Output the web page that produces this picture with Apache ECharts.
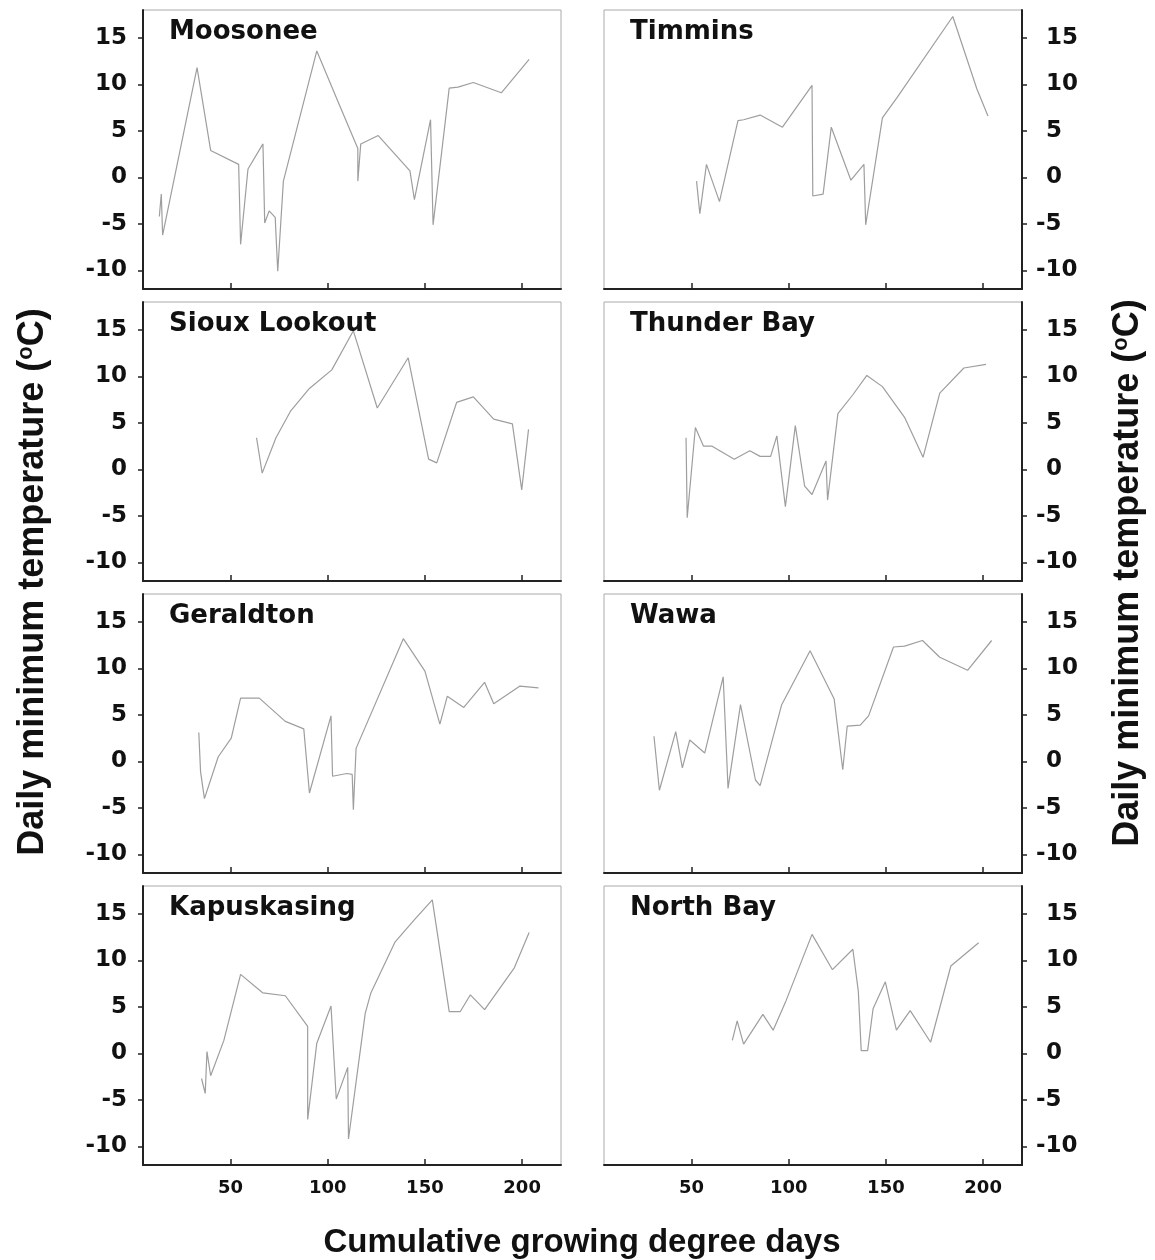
<!DOCTYPE html>
<html>
<head>
<meta charset="utf-8">
<script src="https://cdn.jsdelivr.net/npm/echarts@6/dist/echarts.min.js"></script>
<style>
    html, body { margin: 0; padding: 0; background: #fff; }
    #chart { width: 1155px; height: 1260px; }
</style>
</head>
<body>
<div id="chart"></div>
<script>
    // panel order: left column then right column, row by row
    const stations = ['Moosonee', 'Timmins', 'Sioux Lookout', 'Thunder Bay',
                      'Geraldton', 'Wawa', 'Kapuskasing', 'North Bay'];

    const xTicks = [50, 100, 150, 200];
    const yTicks = [-10, -5, 0, 5, 10, 15];

    // cumulative growing degree days / daily minimum temperature (°C)
    const moosoneeGdd  = [13.4, 14.4, 15.1, 32.8, 39.8, 54.2, 55.2, 59, 66.7, 67.6, 69.9, 73, 74.3, 77.2, 94.4, 105, 115.5, 115.5, 117, 126, 142.3, 144.6, 152.9, 154.2, 162.5, 167, 174.9, 189.3, 203.6];
    const moosoneeTmin = [-4.2, -1.8, -6.2, 11.8, 2.9, 1.4, -7.2, 0.9, 3.6, -4.9, -3.6, -4.3, -10.1, -0.4, 13.6, 8.3, 3.1, -0.4, 3.6, 4.5, 0.7, -2.4, 6.2, -5.1, 9.6, 9.7, 10.2, 9.1, 12.7];

    const timminsGdd  = [52.6, 54.3, 57.7, 64.4, 73.9, 76.8, 85.3, 96.8, 112, 112.4, 117.7, 121.9, 132, 138.7, 139.6, 148.2, 155.8, 184.4, 196.8, 202.5];
    const timminsTmin = [-0.4, -3.9, 1.4, -2.6, 6.1, 6.2, 6.7, 5.4, 9.9, -2.0, -1.8, 5.4, -0.3, 1.4, -5.1, 6.4, 8.6, 17.3, 9.5, 6.6];

    const siouxGdd  = [63.4, 66.3, 73.4, 81, 90.6, 102.1, 113.2, 125.5, 141.4, 151.9, 156.1, 166.3, 174.9, 185.4, 195, 199.8, 203.3];
    const siouxTmin = [3.4, -0.4, 3.4, 6.3, 8.7, 10.7, 14.9, 6.6, 12.0, 1.1, 0.7, 7.2, 7.8, 5.4, 4.9, -2.2, 4.3];

    const thunderGdd  = [47.2, 47.8, 52, 56.2, 60.6, 72, 80, 85.3, 90.7, 93.9, 98.3, 103.4, 108.2, 112, 119.2, 120, 125.3, 132.9, 140.2, 148.2, 159.6, 169.1, 177.7, 190.1, 201.5];
    const thunderTmin = [3.4, -5.2, 4.5, 2.5, 2.5, 1.1, 2.0, 1.4, 1.4, 3.6, -4.0, 4.7, -1.8, -2.7, 0.9, -3.3, 6.0, 8.0, 10.1, 8.9, 5.6, 1.3, 8.2, 10.9, 11.3];

    const geraldtonGdd  = [33.7, 34.6, 36.6, 43.7, 50.4, 55.2, 64.8, 78.2, 87.7, 90.6, 101.7, 102.5, 109.8, 112.6, 113.2, 114.6, 138.9, 150, 157.7, 161.5, 170, 180.7, 185.4, 198.9, 208.4];
    const geraldtonTmin = [3.1, -1.1, -4.0, 0.5, 2.5, 6.8, 6.8, 4.3, 3.5, -3.4, 4.9, -1.6, -1.3, -1.4, -5.2, 1.4, 13.2, 9.7, 4.0, 7.0, 5.8, 8.5, 6.2, 8.1, 7.9];

    const wawaGdd  = [30.7, 33.5, 41.9, 45.3, 49.1, 56.8, 66.3, 68.8, 75.2, 82.9, 85.3, 96.4, 111, 123.4, 127.8, 130.1, 136.8, 141.1, 153.9, 159.6, 168.8, 177.7, 192, 204.4];
    const wawaTmin = [2.7, -3.1, 3.2, -0.7, 2.3, 0.9, 9.1, -2.9, 6.1, -2.0, -2.6, 6.1, 11.9, 6.7, -0.9, 3.8, 3.9, 4.9, 12.3, 12.4, 13.0, 11.2, 9.8, 13.0];

    const kapuskasingGdd  = [35.1, 37, 37.9, 39.8, 46.6, 55.2, 66.7, 78.2, 89.7, 89.7, 94.4, 101.7, 104.4, 110.3, 110.7, 119.3, 122.2, 134.7, 144.3, 153.8, 162.5, 168.2, 173.4, 180.7, 196, 203.6];
    const kapuskasingTmin = [-2.7, -4.3, 0.2, -2.4, 1.4, 8.5, 6.5, 6.2, 2.9, -7.1, 1.1, 5.1, -4.9, -1.5, -9.2, 4.3, 6.5, 12.0, 14.3, 16.5, 4.5, 4.5, 6.3, 4.7, 9.2, 13.0];

    const northBayGdd  = [71, 73.5, 76.8, 86.7, 92, 98.7, 112, 122.5, 133, 135.8, 137.3, 140.6, 143.4, 149.7, 155.4, 162.5, 173, 183.4, 197.7];
    const northBayTmin = [1.4, 3.5, 1.0, 4.2, 2.5, 5.7, 12.8, 9.0, 11.2, 6.7, 0.3, 0.3, 4.8, 7.7, 2.5, 4.6, 1.2, 9.4, 11.9];

    const gddSets  = [moosoneeGdd, timminsGdd, siouxGdd, thunderGdd, geraldtonGdd, wawaGdd, kapuskasingGdd, northBayGdd];
    const tminSets = [moosoneeTmin, timminsTmin, siouxTmin, thunderTmin, geraldtonTmin, wawaTmin, kapuskasingTmin, northBayTmin];

    // layout
    const rowTops = [10, 302, 594, 886];
    const colLefts = [143, 604];
    const panelW = 418, panelH = 279;

    const boldWide = 'DejaVu Sans';
    const boldArial = '"Liberation Sans", Arial, sans-serif';
    const axisDark = '#222';

    const grids = [], xAxes = [], yAxes = [], series = [], titles = [];

    stations.forEach(function (name, i) {
        const row = Math.floor(i / 2), col = i % 2;
        const isRight = col === 1, isBottom = row === 3;

        grids.push({
            left: colLefts[col], top: rowTops[row], width: panelW, height: panelH,
            show: true, borderColor: '#aaa', borderWidth: 1, backgroundColor: '#fff'
        });

        xAxes.push({
            type: 'value', gridIndex: i, min: 5, max: 220,
            axisLine: {show: true, onZero: false, lineStyle: {color: axisDark, width: 2}},
            axisTick: {show: true, inside: true, length: 6, customValues: xTicks, lineStyle: {color: axisDark, width: 1.5}},
            axisLabel: {
                show: isBottom, customValues: xTicks, margin: 14,
                fontFamily: boldWide, fontWeight: 'bold', fontSize: 18, color: '#111'
            },
            splitLine: {show: false}
        });

        yAxes.push({
            type: 'value', gridIndex: i, min: -12, max: 18,
            position: isRight ? 'right' : 'left',
            axisLine: {show: true, onZero: false, lineStyle: {color: axisDark, width: 2}},
            axisTick: {show: true, length: 5, customValues: yTicks, lineStyle: {color: axisDark, width: 1.5}},
            axisLabel: {
                customValues: yTicks, margin: isRight ? 14 : 16,
                fontFamily: boldWide, fontWeight: 'bold', fontSize: 23, color: '#111',
                formatter: isRight
                    ? function (v) { return v < 0 ? '{n|' + v + '}' : '{p|' + v + '}'; }
                    : '{value}',
                rich: {p: {padding: [0, 0, 0, 10]}, n: {}}
            },
            splitLine: {show: false}
        });

        series.push({
            type: 'line', xAxisIndex: i, yAxisIndex: i,
            showSymbol: false, symbol: 'none',
            lineStyle: {color: '#9e9e9e', width: 1.2},
            data: gddSets[i].map(function (g, k) { return [g, tminSets[i][k]]; })
        });

        titles.push({
            text: name, left: colLefts[col] + 26, top: rowTops[row] + 9, padding: 0,
            textStyle: {fontFamily: boldWide, fontWeight: 'bold', fontSize: 26, color: '#111'}
        });
    });

    const yName = 'Daily minimum temperature ({sup|o}C)';
    const yNameStyle = {
        text: yName, fill: '#111',
        fontFamily: boldArial, fontWeight: 'bold', fontSize: 36,
        align: 'center', verticalAlign: 'middle',
        rich: {sup: {fontFamily: boldArial, fontWeight: 'bold', fontSize: 22, verticalAlign: 'top', fill: '#111'}}
    };

    const chart = echarts.init(document.getElementById('chart'));
    chart.setOption({
        animation: false,
        backgroundColor: '#fff',
        title: titles,
        grid: grids,
        xAxis: xAxes,
        yAxis: yAxes,
        series: series,
        graphic: [
            {type: 'text', x: 33, y: 582, rotation: Math.PI / 2, style: yNameStyle},
            {type: 'text', x: 1128, y: 573, rotation: Math.PI / 2, style: yNameStyle},
            {
                type: 'text', x: 582, y: 1243,
                style: {
                    text: 'Cumulative growing degree days', fill: '#111',
                    fontFamily: boldArial, fontWeight: 'bold', fontSize: 33,
                    align: 'center', verticalAlign: 'middle'
                }
            }
        ]
    });

    window.addEventListener('resize', function () { chart.resize(); });
</script>
</body>
</html>
